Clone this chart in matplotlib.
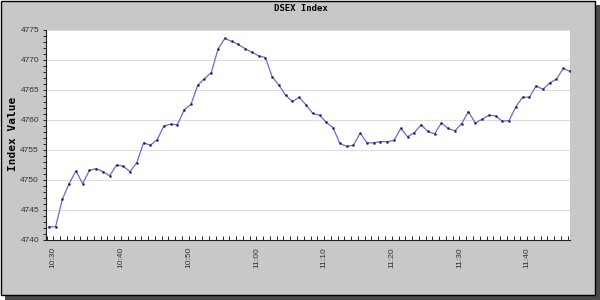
"""
DSEX 指数日内走势图（约 10:29 - 11:46，每分钟一个点）。
"""

import matplotlib

matplotlib.use("Agg")

import matplotlib.dates as mdates
import matplotlib.pyplot as plt
import pandas as pd
from matplotlib.patches import Rectangle
from matplotlib.ticker import MultipleLocator

# ---- data (one reading per minute) ----
start_time = "2000-01-01 10:29:20"
index_values = [
    4742.2, 4742.2, 4746.8, 4749.4, 4751.5, 4749.4, 4751.6, 4751.9, 4751.4, 4750.7,
    4752.5, 4752.3, 4751.4, 4752.9, 4756.2, 4755.8, 4756.7, 4759.0, 4759.3, 4759.2,
    4761.7, 4762.6, 4765.8, 4766.9, 4767.9, 4771.8, 4773.6, 4773.1, 4772.6, 4771.9,
    4771.3, 4770.7, 4770.4, 4767.2, 4765.8, 4764.1, 4763.1, 4763.8, 4762.5, 4761.1,
    4760.8, 4759.6, 4758.7, 4756.1, 4755.6, 4755.8, 4757.8, 4756.2, 4756.2, 4756.4,
    4756.4, 4756.6, 4758.6, 4757.2, 4757.9, 4759.2, 4758.1, 4757.7, 4759.5, 4758.6,
    4758.2, 4759.4, 4761.4, 4759.5, 4760.1, 4760.8, 4760.7, 4759.8, 4759.9, 4762.2,
    4763.8, 4763.8, 4765.7, 4765.1, 4766.2, 4766.8, 4768.6, 4768.1,
]
times = pd.date_range(start_time, periods=len(index_values), freq="1min")

W, H = 600, 300
fig = plt.figure(figsize=(W / 100, H / 100), dpi=100, facecolor="white")

# 灰色背景面板 + 右下阴影
fig.patches.append(Rectangle((5 / W, 0), 595 / W, 295 / H, transform=fig.transFigure,
                             facecolor="#4a4a4a", edgecolor="none", zorder=-10))
fig.patches.append(Rectangle((0.5 / W, 5 / H), 594 / W, 294.5 / H, transform=fig.transFigure,
                             facecolor="#c8c8c8", edgecolor="black", linewidth=1, zorder=-9))

ax = fig.add_axes([46 / W, 1 - 240 / H, (570 - 46) / W, 210 / H])
ax.set_facecolor("white")

ax.plot(times, index_values, color="#6c6ad0", linewidth=0.9,
        marker="s", markersize=1.1, markerfacecolor="#20203a", markeredgecolor="#20203a",
        markeredgewidth=0.4)

ax.set_ylim(4740, 4775)
ax.yaxis.set_major_locator(MultipleLocator(5))
ax.yaxis.set_minor_locator(MultipleLocator(1))
ax.grid(True, axis="y", which="major", color="#dedede", linewidth=0.8)
ax.set_axisbelow(True)

ax.set_xlim(pd.Timestamp("2000-01-01 10:28:55"), pd.Timestamp("2000-01-01 11:46:20"))
ax.xaxis.set_major_locator(mdates.MinuteLocator(byminute=range(0, 60, 10)))
ax.xaxis.set_minor_locator(mdates.MinuteLocator())
ax.xaxis.set_major_formatter(mdates.DateFormatter("%H:%M"))

for side in ("top", "right"):
    ax.spines[side].set_visible(False)
for side in ("left", "bottom"):
    ax.spines[side].set_color("#222222")
    ax.spines[side].set_linewidth(0.8)

ax.tick_params(axis="x", which="both", direction="in", length=3, width=0.7,
               color="#222222", labelsize=6, labelcolor="#333333", pad=5, labelrotation=90)
ax.tick_params(axis="y", which="both", direction="out", length=2, width=0.7,
               color="#222222", labelsize=6, labelcolor="#333333", pad=3)
for lbl in ax.get_xticklabels() + ax.get_yticklabels():
    lbl.set_fontfamily("Liberation Sans")

fig.text(300.5 / W, 1 - 8.5 / H, "DSEX Index", ha="center", va="center",
         fontfamily="DejaVu Sans Mono", fontweight="bold", fontsize=6.5)
fig.text(13 / W, 1 - 133.5 / H, "Index Value", ha="center", va="center", rotation=90,
         fontfamily="DejaVu Sans Mono", fontweight="bold", fontsize=8)

fig.savefig("out.png", dpi=100, facecolor="white")
plt.close(fig)
